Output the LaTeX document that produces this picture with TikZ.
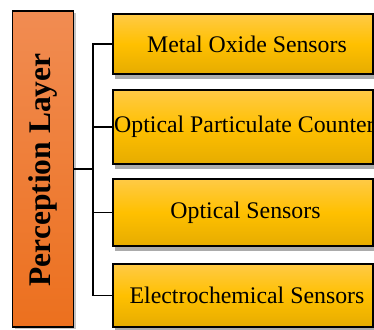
\documentclass[tikz,border=0pt]{standalone}
\usepackage{fontspec}
\setmainfont{Liberation Serif}
\usetikzlibrary{shadows,calc}
\definecolor{ytop}{RGB}{255,202,70}
\definecolor{ymid}{RGB}{255,192,0}
\definecolor{ybot}{RGB}{230,172,0}
\definecolor{otop}{RGB}{241,140,82}
\definecolor{obot}{RGB}{236,112,30}
\tikzset{
  ybox/.style={draw=black, line width=1.4pt, rectangle, inner sep=0pt,
    top color=ytop, bottom color=ybot, middle color=ymid, minimum width=260pt,
    drop shadow={shadow xshift=1.5pt, shadow yshift=-4.5pt, fill=black!55, opacity=0.6}},
  obox/.style={draw=black, line width=1.4pt, rectangle, inner sep=0pt,
    top color=otop, bottom color=obot, minimum width=60.8pt, minimum height=316pt,
    drop shadow={shadow xshift=2.5pt, shadow yshift=-2pt, fill=black!45, opacity=0.5}},
  lbl/.style={font=\fontsize{23.8}{28}\selectfont, inner sep=0pt},
  conn/.style={draw=black, line width=1.8pt},
}
\begin{document}
\begin{tikzpicture}[x=1pt,y=-1pt]
\useasboundingbox (0,0) rectangle (374,329);
\node[obox] (left) at (43.1,169) {};
\node[rotate=90, font=\fontsize{31.5}{36}\selectfont\bfseries, inner sep=0pt] (title) at (43.1,170) {Perception Layer};
\node[ybox, minimum height=60pt] (b1) at (243,44) {};
\node[ybox, minimum height=74pt] (b2) at (243,127) {};
\node[ybox, minimum height=67pt] (b3) at (243,212.5) {};
\node[ybox, minimum height=63pt] (b4) at (243,295.5) {};
\node[lbl] (t1) at (247,44) {Metal Oxide Sensors};
\node[lbl, anchor=west] (t2) at (114,127) {Optical Particulate Counter};
\node[lbl] (t3) at (245.5,212.5) {Optical Sensors};
\node[lbl] (t4) at (247,295.5) {Electrochemical Sensors};
\coordinate (bus) at (93,169);
\draw[conn] (left.east) -- (bus);
\draw[conn] (b1.west) -| (bus) |- (b4.west);
\draw[conn] (b2.west) -- (b2.west -| bus);
\draw[conn] (b3.west) -- (b3.west -| bus);
\end{tikzpicture}
\end{document}
